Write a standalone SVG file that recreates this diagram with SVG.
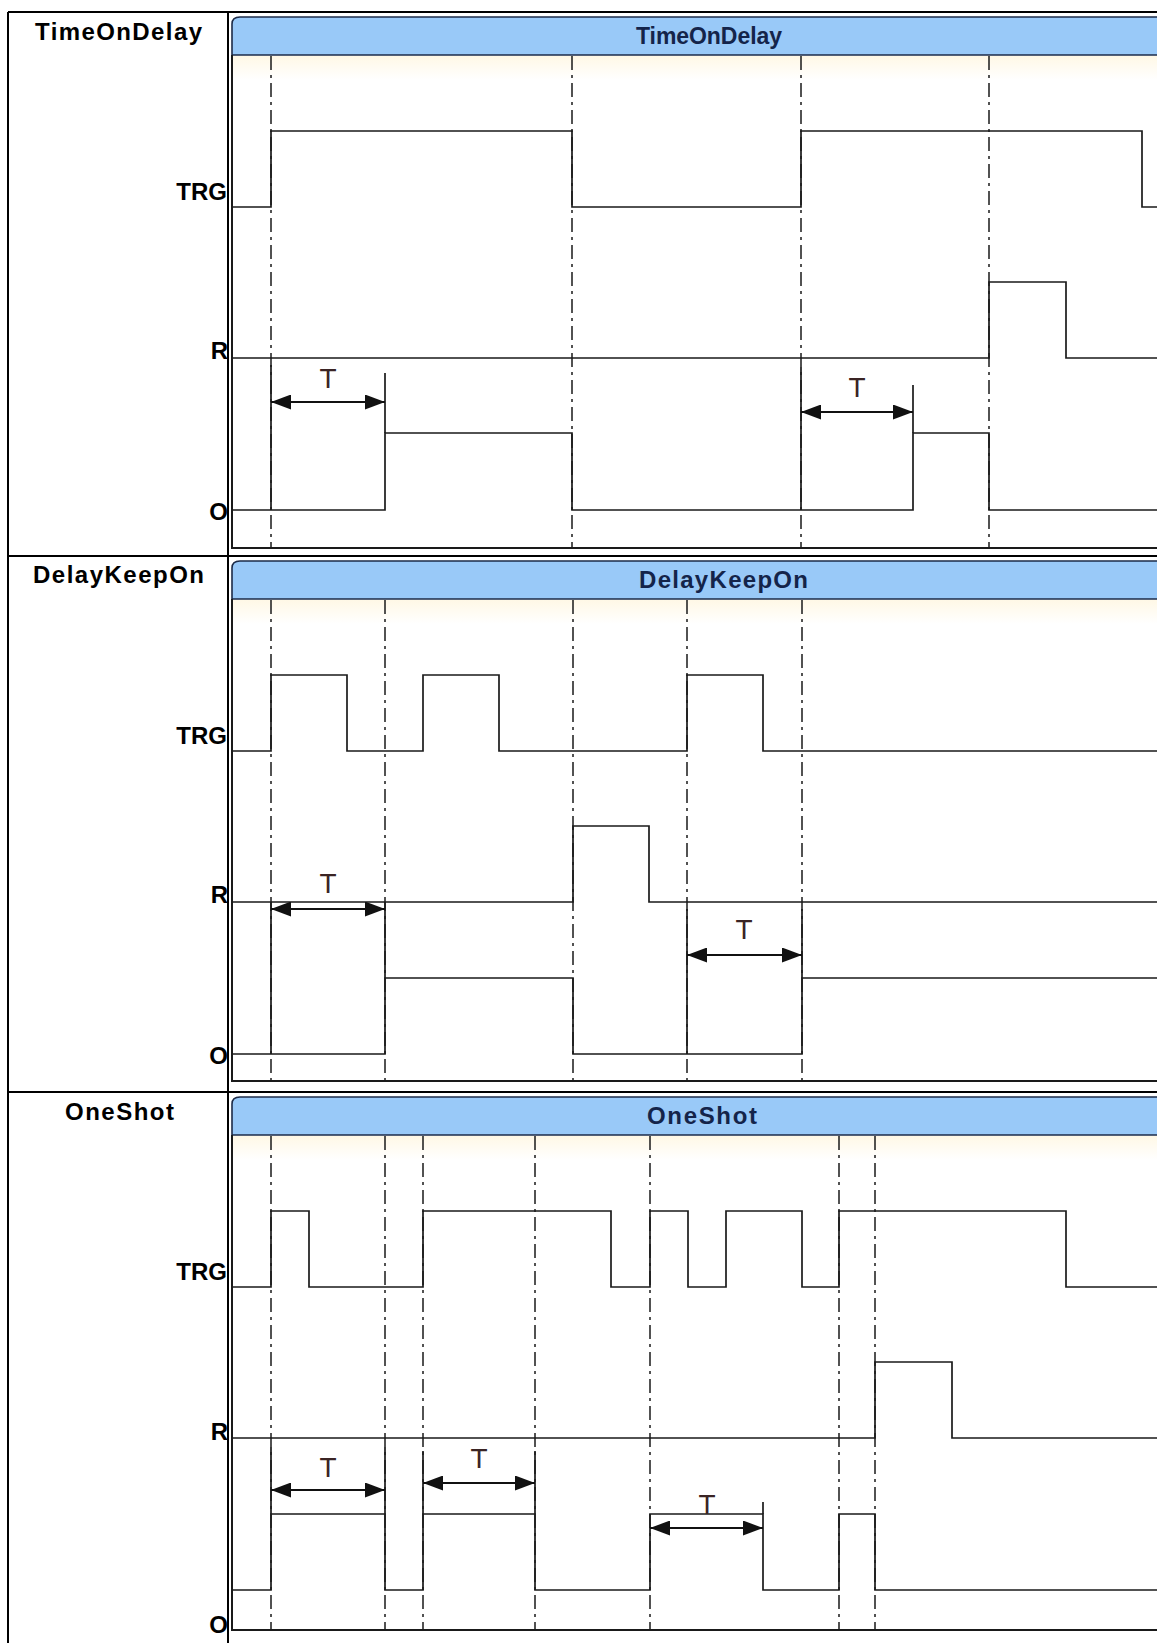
<svg xmlns="http://www.w3.org/2000/svg" width="1157" height="1643" viewBox="0 0 1157 1643">
<defs>
<style>
.frame{fill:none;stroke:#000;stroke-width:2}
.hdr{fill:#99c9f8;stroke:#1d2b48;stroke-width:1.6}
.body{fill:none;stroke:#1a1a1a;stroke-width:2}
.sig{fill:none;stroke:#1a1a1a;stroke-width:1.7}
.dash{fill:none;stroke:#1a1a1a;stroke-width:1.5;stroke-dasharray:14 5 3 5}
.ext{fill:none;stroke:#1a1a1a;stroke-width:1.7}
.dim{fill:none;stroke:#111;stroke-width:2;marker-start:url(#ah);marker-end:url(#ah)}
.lbl{font-family:"Liberation Sans",Arial,sans-serif;font-weight:bold;font-size:24px;fill:#000}
.htxt{font-family:"Liberation Sans",Arial,sans-serif;font-weight:bold;font-size:24px;fill:#14244a}
.t{font-family:"Liberation Sans",Arial,sans-serif;font-size:28px;fill:#3a2424;text-anchor:middle}
</style>
<marker id="ah" viewBox="0 0 20 15" refX="20" refY="7.5" markerWidth="20" markerHeight="15" orient="auto-start-reverse" markerUnits="userSpaceOnUse">
<path d="M0,0 L20,7.5 L0,15 Z" fill="#111"/>
</marker>
<linearGradient id="cream" x1="0" y1="0" x2="0" y2="1">
<stop offset="0" stop-color="#fff8e6"/>
<stop offset="1" stop-color="#ffffff"/>
</linearGradient>
</defs>
<rect width="1157" height="1643" fill="#fff"/>

<!-- table frame -->
<g id="table">
<path class="frame" d="M8,12 H1160 M8,12 V1650 M228,12 V1650 M8,556 H1160 M8,1092 H1160"/>
</g>

<!-- Row 1 : TimeOnDelay -->
<g id="row-timeondelay">
<text class="lbl" x="35" y="40" textLength="167">TimeOnDelay</text>
<text class="lbl" x="227" y="200" text-anchor="end">TRG</text>
<text class="lbl" x="228" y="359" text-anchor="end">R</text>
<text class="lbl" x="228" y="520" text-anchor="end">O</text>
<rect x="233" y="56" width="930" height="24" fill="url(#cream)"/>
<path class="hdr" d="M232,55 V24 Q232,17 240,17 H1162 V55 Z"/>
<text class="htxt" x="636" y="44" style="font-size:23px" textLength="146">TimeOnDelay</text>
<path class="body" d="M232,55 V548 H1162"/>
<path class="dash" d="M271,56 V548 M572,56 V548 M801,56 V548 M989,56 V548"/>
<path class="sig" d="M232,207 H271 V131 H572 V207 H801 V131 H1142 V207 H1160"/>
<path class="sig" d="M232,358 H989 V282 H1066 V358 H1160"/>
<path class="sig" d="M232,510 H385 V433 H572 V510 H913 V433 H989 V510 H1160"/>
<path class="ext" d="M271,365 V510 M385,373 V433 M801,367 V510 M913,385 V433"/>
<text class="t" x="328" y="388">T</text>
<text class="t" x="857" y="397">T</text>
</g>

<!-- Row 2 : DelayKeepOn -->
<g id="row-delaykeepon">
<text class="lbl" x="33" y="583" textLength="171">DelayKeepOn</text>
<text class="lbl" x="227" y="744" text-anchor="end">TRG</text>
<text class="lbl" x="228" y="903" text-anchor="end">R</text>
<text class="lbl" x="228" y="1064" text-anchor="end">O</text>
<rect x="233" y="600" width="930" height="24" fill="url(#cream)"/>
<path class="hdr" d="M232,599 V568 Q232,561 240,561 H1162 V599 Z"/>
<text class="htxt" x="639" y="588" textLength="169">DelayKeepOn</text>
<path class="body" d="M232,599 V1081 H1162"/>
<path class="dash" d="M271,600 V1081 M385,600 V1081 M573,600 V1081 M687,600 V1081 M802,600 V1081"/>
<path class="sig" d="M232,751 H271 V675 H347 V751 H423 V675 H499 V751 H687 V675 H763 V751 H1160"/>
<path class="sig" d="M232,902 H573 V826 H649 V902 H1160"/>
<path class="sig" d="M232,1054 H385 V978 H573 V1054 H802 V978 H1160"/>
<path class="ext" d="M271,902 V1054 M385,902 V978 M687,909 V1054 M802,909 V978"/>
<text class="t" x="328" y="893">T</text>
<text class="t" x="744" y="939">T</text>
</g>

<!-- Row 3 : OneShot -->
<g id="row-oneshot">
<text class="lbl" x="65" y="1120" textLength="109">OneShot</text>
<text class="lbl" x="227" y="1280" text-anchor="end">TRG</text>
<text class="lbl" x="228" y="1440" text-anchor="end">R</text>
<text class="lbl" x="228" y="1633" text-anchor="end">O</text>
<rect x="233" y="1136" width="930" height="24" fill="url(#cream)"/>
<path class="hdr" d="M232,1135 V1104 Q232,1097 240,1097 H1162 V1135 Z"/>
<text class="htxt" x="647" y="1124" textLength="110">OneShot</text>
<path class="body" d="M232,1135 V1630 H1162"/>
<path class="dash" d="M271,1136 V1630 M385,1136 V1630 M423,1136 V1630 M535,1136 V1630 M650,1136 V1630 M839,1136 V1630 M875,1136 V1630"/>
<path class="sig" d="M232,1287 H271 V1211 H309 V1287 H423 V1211 H611 V1287 H650 V1211 H688 V1287 H726 V1211 H802 V1287 H839 V1211 H1066 V1287 H1160"/>
<path class="sig" d="M232,1438 H875 V1362 H952 V1438 H1160"/>
<path class="sig" d="M232,1590 H271 V1514 H385 V1590 H423 V1514 H535 V1590 H650 V1514 H763 V1590 H839 V1514 H875 V1590 H1160"/>
<path class="ext" d="M271,1447 V1514 M385,1447 V1514 M423,1451 V1514 M535,1451 V1514 M763,1502 V1514"/>
<text class="t" x="328" y="1477">T</text>
<text class="t" x="479" y="1468">T</text>
<text class="t" x="707" y="1514">T</text>
</g>

<!-- dimension arrows -->
<g id="connectors">
<line class="dim" x1="271" y1="402" x2="385" y2="402"/>
<line class="dim" x1="801" y1="412" x2="913" y2="412"/>
<line class="dim" x1="271" y1="909" x2="385" y2="909"/>
<line class="dim" x1="687" y1="955" x2="802" y2="955"/>
<line class="dim" x1="271" y1="1490" x2="385" y2="1490"/>
<line class="dim" x1="423" y1="1483" x2="535" y2="1483"/>
<line class="dim" x1="650" y1="1528" x2="763" y2="1528"/>
</g>
</svg>
